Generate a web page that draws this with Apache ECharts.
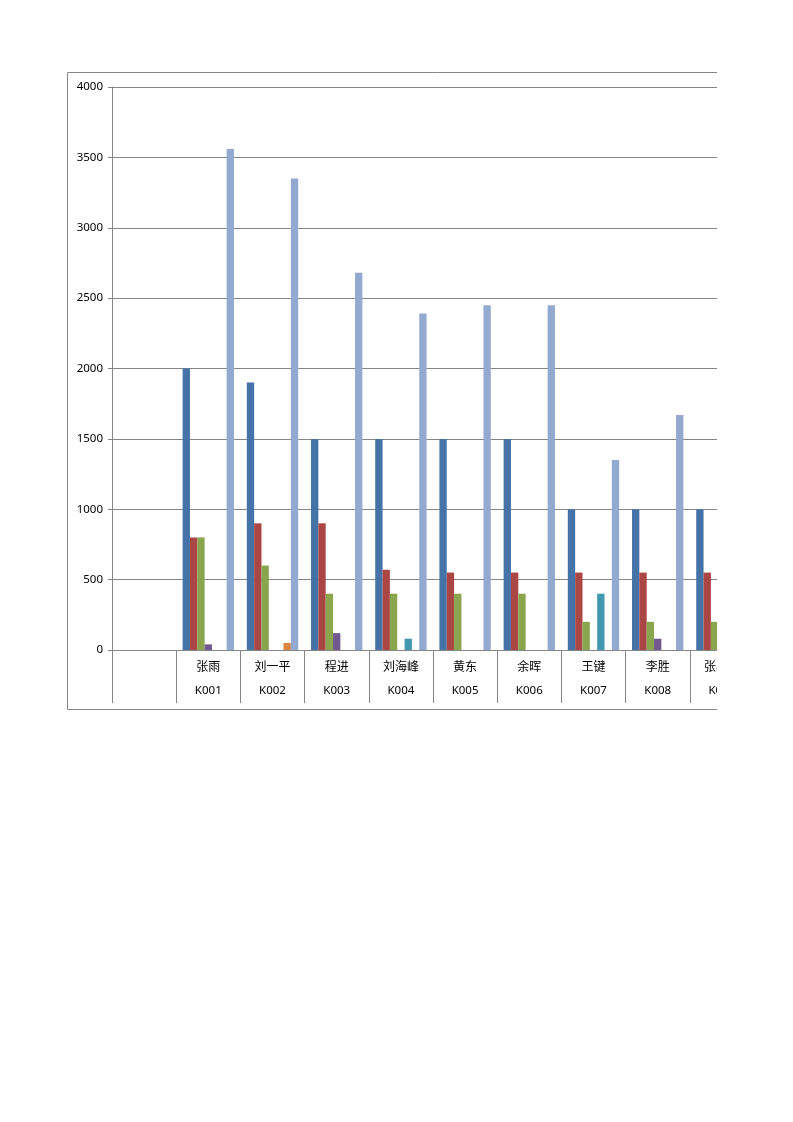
<!DOCTYPE html>
<html>
<head>
<meta charset="utf-8">
<script src="https://cdn.jsdelivr.net/npm/echarts@6/dist/echarts.min.js"></script>
<style>
html,body{margin:0;padding:0;background:#fff;}
#clip{position:absolute;left:0;top:0;width:717px;height:760px;overflow:hidden;}
#chart{position:absolute;left:0;top:0;width:820px;height:760px;}
</style>
</head>
<body>
<div id="clip"><div id="chart"></div></div>
<script>
// Data
const names = ['', '张雨', '刘一平', '程进', '刘海峰', '黄东', '余晖', '王键', '李胜', '张小明'];
const codes = ['', 'K001', 'K002', 'K003', 'K004', 'K005', 'K006', 'K007', 'K008', 'K009'];
const seriesA = [null, 2000, 1900, 1500, 1500, 1500, 1500, 1000, 1000, 1000];
const seriesB = [null, 800, 900, 900, 570, 550, 550, 550, 550, 550];
const seriesC = [null, 800, 600, 400, 400, 400, 400, 200, 200, 200];
const seriesD = [null, 40, 0, 120, 0, 0, 0, 0, 80, null];
const seriesE = [null, 0, 0, 0, 80, 0, 0, 400, 0, null];
const seriesF = [null, 0, 50, 0, 0, 0, 0, 0, 0, null];
const seriesG = [null, 3560, 3350, 2680, 2390, 2450, 2450, 1350, 1670, null];
const yTicks = [0, 500, 1000, 1500, 2000, 2500, 3000, 3500, 4000];

const colors = ['#4572A7', '#AA4643', '#89A54E', '#71588F', '#4198AF', '#DB843D', '#93A9CF'];
const lineColor = '#868686';
const numFont = 'Noto Sans';
const cjkFont = 'Noto Sans CJK SC';

const chart = echarts.init(document.getElementById('chart'), null, {renderer: 'canvas'});
const allSeries = [seriesA, seriesB, seriesC, seriesD, seriesE, seriesF, seriesG];
const option = {
  animation: false,
  color: colors,
  graphic: [{
    type: 'rect',
    shape: {x: 67.5, y: 72.5, width: 740, height: 637},
    style: {fill: 'none', stroke: lineColor, lineWidth: 1},
    z: 0
  }],
  grid: {left: 112, top: 87, width: 642, height: 563, containLabel: false},
  xAxis: [{
    type: 'category',
    data: names,
    position: 'bottom',
    axisLine: {show: true, lineStyle: {color: lineColor, width: 1}},
    axisTick: {show: true, interval: 0, length: 53, lineStyle: {color: lineColor, width: 1}},
    axisLabel: {interval: 0, margin: 10, color: '#000', fontSize: 12, fontFamily: cjkFont},
    splitLine: {show: false}
  }, {
    type: 'category',
    data: codes,
    position: 'bottom',
    offset: 0,
    axisLine: {show: false},
    axisTick: {show: false},
    axisLabel: {interval: 0, margin: 35, color: '#000', fontSize: 11.5, fontFamily: numFont},
    splitLine: {show: false}
  }],
  yAxis: {
    type: 'value',
    min: yTicks[0],
    max: yTicks[yTicks.length - 1],
    interval: yTicks[1] - yTicks[0],
    axisLine: {show: true, lineStyle: {color: lineColor, width: 1}},
    axisTick: {show: true, length: 4, lineStyle: {color: lineColor}},
    axisLabel: {margin: 9, color: '#000', fontSize: 11.5, fontFamily: numFont, formatter: v => String(v)},
    splitLine: {show: true, lineStyle: {color: lineColor, width: 1}}
  },
  series: allSeries.map((d, i) => ({
    type: 'bar',
    name: 'S' + (i + 1),
    data: d,
    xAxisIndex: 0,
    barGap: '0%',
    barCategoryGap: '20%',
    itemStyle: {color: colors[i]}
  }))
};
chart.setOption(option);
</script>
</body>
</html>
